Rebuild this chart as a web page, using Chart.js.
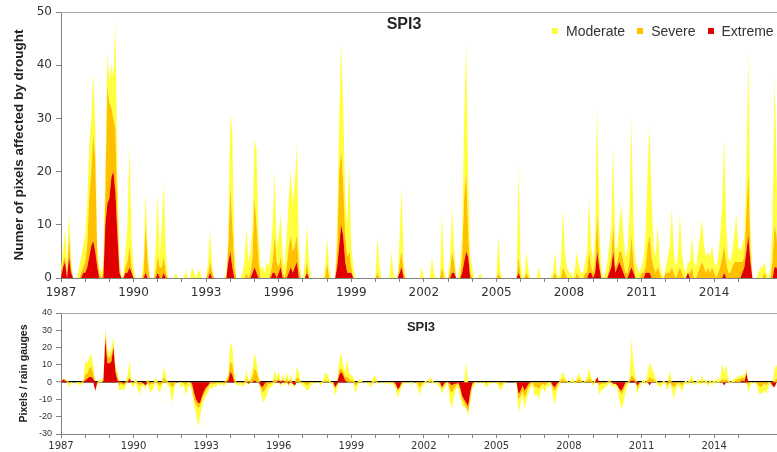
<!DOCTYPE html>
<html>
<head>
<meta charset="utf-8">
<script src="https://cdn.jsdelivr.net/npm/chart.js@4.4.1/dist/chart.umd.min.js"></script>
<style>
  html, body { margin: 0; padding: 0; background: #fff; }
  #wrap { position: relative; width: 777px; height: 452px; overflow: hidden; background: #fff; }
  canvas { position: absolute; left: 0; }
  #cTop { top: 0; }
  #cBot { top: 300px; }
  .ttl { position: absolute; font-family: "Liberation Sans", Arial, sans-serif; font-weight: bold; color: #262626; white-space: nowrap; transform: translate(-50%, -50%); line-height: 1; }
  #legend { position: absolute; left: 552px; top: 22px; height: 17px; display: flex; align-items: center; font-family: "Liberation Sans", Arial, sans-serif; font-size: 14px; color: #333; white-space: nowrap; }
  #legend .it { display: flex; align-items: center; margin-right: 12px; }
  #legend .sw { display: inline-block; width: 6px; height: 6px; margin-right: 8px; }
</style>
</head>
<body>
<div id="wrap">
  <canvas id="cTop" width="777" height="300"></canvas>
  <canvas id="cBot" width="777" height="152"></canvas>
  <div class="ttl" style="left:404px; top:24px; font-size:16px;">SPI3</div>
  <div class="ttl" style="left:421px; top:326px; font-size:13px;">SPI3</div>
  <div id="legend"></div>
</div>
<script>
// ---------------- DATA ----------------
const startYear = 1987;              // first month = Jan 1987, monthly values
const yearLabels = [1987, 1990, 1993, 1996, 1999, 2002, 2005, 2008, 2011, 2014];
const seriesNames = ['Extreme', 'Severe', 'Moderate'];
const topTitle = 'SPI3';
const yTitleTop = 'Numer of pixels affected by drought';
const yTitleBottom = 'Pixels / rain gauges';

// Top panel: number of pixels per class (layer thickness), monthly
const topExtreme = [
  0,2,3,0,4,1,0,0,0,0,0,1,        // 1987
  1,2,4,6,7,5,2,0,0,0,10,14,      // 1988
  15,19,20,16,8,1,0,0,1,1,2,1,    // 1989
  0,0,0,0,0,0,1,0,0,0,0,0,        // 1990
  1,0,0,1,0,0,0,0,0,0,0,0,        // 1991
  0,0,0,0,0,0,0,0,0,0,0,0,        // 1992
  0,0,1,0,0,0,0,0,0,0,0,3,        // 1993
  5,2,0,0,0,0,0,0,0,0,0,1,        // 1994
  2,1,0,0,0,0,0,0,0,1,1,0,        // 1995
  1,2,0,0,0,1,2,1,2,3,0,0,        // 1996
  0,0,1,0,0,0,0,0,0,0,0,0,        // 1997
  0,0,0,0,0,2,6,10,8,3,1,1,       // 1998
  1,0,0,0,0,0,0,0,0,0,0,0,        // 1999
  0,0,0,0,0,0,0,0,0,0,0,0,        // 2000
  1,2,0,0,0,0,0,0,0,0,0,0,        // 2001
  0,0,0,0,0,0,0,0,0,0,0,0,        // 2002
  0,0,1,1,0,0,0,1,3,5,4,0,        // 2003
  0,0,0,0,0,0,0,0,0,0,0,0,        // 2004
  0,0,0,0,0,0,0,0,0,0,0,1,        // 2005
  0,0,0,0,0,0,0,0,0,0,0,0,        // 2006
  0,0,0,0,0,0,0,0,0,0,0,0,        // 2007
  0,0,0,0,0,0,0,0,0,0,1,1,        // 2008
  0,1,5,2,0,0,0,0,1,2,5,1,        // 2009
  2,3,2,1,0,0,1,2,1,0,0,0,        // 2010
  0,0,1,1,1,0,0,0,0,0,0,0,        // 2011
  0,0,0,0,0,0,0,0,0,0,0,1,        // 2012
  0,0,0,0,0,0,0,0,0,0,0,0,        // 2013
  0,0,0,0,0,1,0,0,0,0,0,0,        // 2014
  0,0,1,2,5,8,3,0,0,0,0,0,        // 2015
  0,0,0,0,0,0,2,2,0,0,0,0         // 2016
];
const topSevere = [
  1,1,1,1,4,1,0,0,0,0,1,1,        // 1987
  2,4,11,14,20,17,2,1,0,1,6,22,   // 1988
  18,13,10,12,4,1,0,0,1,2,4,1,    // 1989
  0,0,0,0,0,1,9,3,0,0,0,1,        // 1990
  3,2,2,3,1,0,0,0,0,0,0,0,        // 1991
  0,0,0,0,0,0,0,0,0,0,0,0,        // 1992
  0,1,2,1,0,0,0,0,0,0,0,3,        // 1993
  12,8,2,0,0,0,0,0,1,0,1,3,       // 1994
  13,9,3,0,0,0,0,0,1,2,7,3,       // 1995
  1,2,1,0,2,5,6,4,4,5,2,0,        // 1996
  0,0,2,0,0,0,0,0,0,0,0,0,        // 1997
  3,0,0,0,0,3,14,14,10,5,3,4,     // 1998
  1,0,0,0,0,0,0,0,0,0,0,0,        // 1999
  0,1,0,0,0,0,0,0,0,0,0,0,        // 2000
  2,3,1,0,0,0,0,0,0,0,0,0,        // 2001
  0,0,0,0,0,0,0,0,0,2,0,0,        // 2002
  0,1,4,2,0,0,0,3,12,15,4,1,      // 2003
  0,0,0,0,0,0,0,0,0,0,0,0,        // 2004
  0,1,0,0,0,0,0,0,0,0,0,3,        // 2005
  0,0,0,1,0,0,0,0,0,0,0,0,        // 2006
  0,0,0,0,0,1,0,0,0,2,1,0,        // 2007
  0,0,0,0,1,0,0,0,1,1,4,1,        // 2008
  1,2,7,2,0,0,0,0,1,2,5,1,        // 2009
  1,2,3,2,1,1,2,6,2,0,0,0,        // 2010
  1,1,1,5,7,4,2,1,2,1,0,0,        // 2011
  1,1,1,2,1,0,1,2,1,0,0,0,        // 2012
  1,2,0,0,1,2,3,2,1,2,1,2,        // 2013
  1,0,1,2,4,5,3,1,1,2,3,3,        // 2014
  3,3,2,2,7,12,2,0,0,0,0,0,       // 2015
  0,1,0,0,0,3,8,6,0,0,0,0         // 2016
];
const topModerate = [
  1,2,5,2,4,2,0,0,0,2,3,4,        // 1987
  5,8,10,10,11.5,7,2,1,1,2,4,6.5, // 1988
  4,8,8,20,8,2,0,1,3,7,19,6,      // 1989
  2,0,0,0,0,3,6,3,0,0,0,5,        // 1990
  12,2,8,14,4,0,0,0,0,1,0,0,      // 1991
  0,0,1.5,0,0,2,1,0,1.5,1,0,0,    // 1992
  0,2,6,1,0,0,0,0,0,0,1,2,        // 1993
  14,17,4,0,0,0,1,3,8.6,3,4,6,    // 1994
  11,14,5,2,2,1,3,2,4,7,12,3,     // 1995
  6,8,3,2,6,9,12,9,12,17,4,0,     // 1996
  0,3,7,3,0,0,0,0,0,0,0,2,        // 1997
  4.5,2,0,0,0,5,10,20,14,7,6,17,  // 1998
  4,2,0,0,0,0,0,0,0,0,0,0,        // 1999
  0,6.7,2,0,0,0,0,0,5,1,0,0,      // 2000
  5,12,2,0,0,0,0,0,0,0,0,2,       // 2001
  0,0,0,0,4,1,0,0,0,10,2,0,       // 2002
  0,3,8,3,0,0,3,4,15,24,12,3,     // 2003
  2,0,0,0,1,0,0,0,0,0,0,0,        // 2004
  0,7,1,0,0,0,0,0,0,0,0,17,       // 2005
  3,0,1,4,1,0,0,0,0,2,0,0,        // 2006
  0,0,0,0,1,4,1,0,3,11,4,2,       // 2007
  1,1,0,2,4,2,1,1,2,4,10,4,       // 2008
  2,5,20,6,2,0,1,3,4,6,15,3,      // 2009
  3,5,9,5,3,4,9,22,7,3,2,1,       // 2010
  1,3,6,14,20.5,11,4,3,8,2,1,0,   // 2011
  1,3,5,11,4,2,3,10,4,2,1,2,      // 2012
  2,6,3,2,4,6,8,4,3,3,3,4,        // 2013
  2,2,3,6,10,20.5,7,3,2,3,5,9,    // 2014
  3,2,3,4,8,23,5,0,0,0,1,2,       // 2015
  2,2,1,0,2,7,28,12,0,0,0,0       // 2016
];

// Bottom panel: difference pixels - rain gauges per class (signed layer thickness)
const diffExtreme = [
  0,1.5,1,0,0,0,0,0,0,0,0,0,            // 1987
  1,2,3,3,2,-5,0,0,0,0,25,11,           // 1988
  11,12,20,6,1,0,0,-1,0,0,2,0,          // 1989
  0,0,0,0,0,-1,-2,0,0,0,0,0,            // 1990
  0,0,0,0,0,0,0,0,0,0,0,0,              // 1991
  0,0,0,0,0,-1,-6,-10,-12,-12,-8,-5,    // 1992
  -3,-2,0,0,0,0,0,0,0,0,0,1,            // 1993
  6,4,0,0,0,0,0,0,0,-1,0,0,             // 1994
  1,0,0,-2,-3,-1,0,0,0,0,0,0,           // 1995
  1,-1,1,0,0,-1,0,-1,-2,0,0,0,          // 1996
  0,0,0,0,0,0,0,0,0,0,0,0,              // 1997
  0,0,0,0,-3,-1,4,6,4,1,0,0,            // 1998
  0,0,0,0,0,0,0,0,0,0,0,0,              // 1999
  0,0,0,0,0,0,0,0,0,0,-1,-4,            // 2000
  -3,0,0,0,0,0,0,0,0,0,0,0,             // 2001
  0,0,0,0,0,0,0,0,0,-3,-1,0,            // 2002
  0,-1,-2,-1,-1,0,-3,-8,-10,-12,-14,-6, // 2003
  -1,0,0,0,0,0,0,0,0,0,0,0,             // 2004
  0,0,0,0,0,0,0,0,0,0,0,-7,             // 2005
  -5,-2,-5,-3,-1,0,0,0,0,0,0,0,         // 2006
  0,0,0,0,-2,-3,-1,0,0,0,0,0,           // 2007
  0,0,0,0,0,0,0,0,0,0,0,0,              // 2008
  0,0,3,0,0,0,0,0,0,0,-1,-1,            // 2009
  -2,-4,-5,-3,0,0,0,1,1,0,-2,0,         // 2010
  0,0,0,0,-2,0,0,0,0,0,0,0,             // 2011
  0,0,0,0,0,0,0,0,0,0,0,0,              // 2012
  0,0,0,0,0,0,0,0,0,0,0,0,              // 2013
  0,0,0,0,0,-2,0,0,0,0,0,0,             // 2014
  0,0,1,0,5,0,0,0,0,0,0,0,              // 2015
  0,0,0,0,0,-2,-3,0,0,0,0,0             // 2016
];
const diffSevere = [
  0,0.5,0.5,0,-1,0,0,0,0,0,-1,0,        // 1987
  3,3,5,6,3,0,-1,0,0,1,4,4,             // 1988
  3,4,2,2,2,-2,-1,-1,-1,1,1,0,          // 1989
  -1,0,-1,-2,-1,0,0,1,-2,-1,-1,0,       // 1990
  -1,-2,-1,3,1,0,-1,-3,-2,0,0,0,        // 1991
  0,-1,-2,0,0,-2,-4,-3,-3,-2,-2,-2,     // 1992
  -2,-1,-1,-1,-1,-1,0,-1,0,-1,1,2,      // 1993
  6,6,2,0,-1,0,-1,0,2,0,1,3,            // 1994
  7,6,2,-1,-3,-4,-3,-1,-1,0,2,1,        // 1995
  1,0,1,-1,2,-1,2,0,0,3,2,0,            // 1996
  0,-1,-2,-1,0,0,0,0,0,0,0,1,           // 1997
  1,0,0,0,-1,-1,3,2,2,2,3,2,            // 1998
  1,1,-2,-1,0,0,0,0,0,0,-1,0,           // 1999
  1,0,0,0,0,0,0,0,0,0,-1,-1,            // 2000
  -1,-1,0,0,0,0,0,0,0,-1,-3,-1,         // 2001
  0,0,0,1,0,0,0,0,-1,-1,-1,0,           // 2002
  0,-4,-4,-3,-1,-1,-2,-2,-2,-3,-3,-3,   // 2003
  -1,0,0,0,0,0,0,-1,0,0,0,0,            // 2004
  0,0,-2,-1,0,0,0,0,0,0,0,-3,           // 2005
  -3,-3,-4,-3,-2,-1,0,-3,-3,-4,-2,-1,   // 2006
  -2,-1,0,0,-2,-2,-2,0,1,2,1,0,         // 2007
  0,0,0,0,1,2,1,0,0,1,2,1,              // 2008
  -1,0,0,-2,-1,-1,-1,0,1,0,0,0,         // 2009
  0,-1,-2,-2,-2,0,1,3,2,1,-2,-1,        // 2010
  0,0,0,1,3,2,2,0,0,-1,0,0,             // 2011
  0,-2,2,-2,-3,-2,0,-1,-2,0,0,0,        // 2012
  0,1,0,0,0,0,1,0,0,-1,0,0,             // 2013
  0,0,0,0,2,1,2,0,0,0,0,1,              // 2014
  2,2,2,2,1,-2,0,0,0,0,-2,-3,           // 2015
  -2,-1,-2,0,0,-1,1,2,0,0,0,0           // 2016
];
const diffModerate = [
  0,0,0.5,1,-2,-1,0,0,-2,-1,-1,1,       // 1987
  8,6,6,7.5,5,-0.5,-1,2,1,2,2,5,        // 1988
  2,4,4,2,3,-3,-3,-3,-2,3,10,-2,        // 1989
  -2,2,-3,-5,-2,-1,-2,1,-4,-4,-2,3,     // 1990
  -3,-4,-2,6,3,-2,-3,-9,-4,0,0,-2,      // 1991
  -3,-1,-6,-3,-2,-3,-4,-5,-11,-6,-4,-3, // 1992
  -3,-3,-2,-3,-1,-2,-1,-1,-1,-2,1,2,    // 1993
  11,10,4,-2,-1,-1,-2,-2,6,-1,2,5,      // 1994
  9,6,2,-2,-6,-5,-5,-3,-2,-2,5,2,       // 1995
  4,-2,3,-1,4,-1,3,-1,-1,6,4,-1,        // 1996
  -2,-2,-3,-3,-2,-1,0,-1,0,-2,1,4,      // 1997
  4,2,-1,-2,-4,-2,5,9,4,3,10,3,         // 1998
  3,2,-5,-2,2,1,0,-1,0,-2,-2,3,         // 1999
  3,-1,0,-1,0,-2,0,-1,-1,-2,-2,-4,      // 2000
  -2,-2,-1,0,-1,0,-2,0,0,-3,-4,-2,      // 2001
  -2,1,-1,2,2,-1,0,-2,-2,-3,-2,-2,      // 2002
  -1,-7,-9,-4,-2,-2,-3,-4,-2,12,-2,-3,  // 2003
  -2,-2,-1,0,-1,0,-1,-2,-2,0,-1,0,      // 2004
  -1,-2,-3,-2,-1,0,0,0,0,0,-2,-8,       // 2005
  -4,-3,-6,-4,-3,-2,-2,-5,-4,-6,-3,-2,  // 2006
  -4,-2,-2,-1,-4,-8,-3,-2,2,4,2,1,      // 2007
  -1,1,2,-1,2,3,1,-1,1,2,6,2,           // 2008
  -1,2,0,-5,-4,-3,-2,-2,1,-2,-2,-1,     // 2009
  -2,-5,-9,-7,-4,-2,1,21,7,2,-3,-2,     // 2010
  -1,2,-1,4,9,6,4,2,-2,-2,-2,1,         // 2011
  -2,-3,5,-2,-7,-2,-2,-2,-4,-2,1,-2,    // 2012
  2,3,-2,-1,2,-2,3,-1,2,-2,1,-2,        // 2013
  2,-1,3,1,9,4,8,2,-1,1,2,2,            // 2014
  1,2,1,2,2,-4,-2,0,-1,-1,-4,-4,        // 2015
  -4,-4,-5,-2,-1,0,7,8,0,0,0,0          // 2016
];

// ---------------- STYLE / BUILD ----------------
const RED = '#e00000', ORANGE = '#ffc000', YELLOW = '#ffff40';
const AXIS = '#808080';
const xMin = 1987, xMax = 2016.6;

const toPts = (arr, f) => arr.map((v, i) => ({ x: startYear + i / 12, y: f ? f(v) : v }));
const pos = v => Math.max(v, 0);
const neg = v => Math.min(v, 0);
const area = (label, data, color, fill, stack) => ({
  label, data, backgroundColor: color, borderColor: color, borderWidth: 0,
  pointRadius: 0, pointHoverRadius: 0, fill, tension: 0, stack
});

const topBorder = {
  id: 'topBorder',
  afterDraw(chart) {
    const { ctx, chartArea: a } = chart;
    ctx.save();
    ctx.strokeStyle = '#a8a8a8';
    ctx.lineWidth = 1;
    ctx.beginPath();
    ctx.moveTo(a.left, Math.round(a.top) + 0.5);
    ctx.lineTo(a.right, Math.round(a.top) + 0.5);
    ctx.stroke();
    ctx.restore();
  }
};

function xScale(fontSize, height, pad) {
  return {
    type: 'linear', min: xMin, max: xMax,
    afterFit: s => { s.height = height; },
    afterBuildTicks: s => { s.ticks = s.ticks.filter(t => Number.isInteger(t.value)); },
    grid: { drawOnChartArea: false, drawTicks: true, tickLength: 4, color: AXIS },
    border: { color: AXIS, width: 1 },
    ticks: {
      stepSize: 1, autoSkip: false, maxRotation: 0, minRotation: 0, padding: pad,
      color: '#333', font: { family: 'DejaVu Sans', size: fontSize },
      callback: v => yearLabels.includes(v) ? String(v) : ''
    }
  };
}

const common = {
  responsive: false, animation: false, events: [],
  plugins: { legend: { display: false }, tooltip: { enabled: false } }
};

const topChart = new Chart(document.getElementById('cTop'), {
  type: 'line',
  data: {
    datasets: [
      area(seriesNames[0], toPts(topExtreme), RED, 'origin'),
      area(seriesNames[1], toPts(topSevere), ORANGE, '-1'),
      area(seriesNames[2], toPts(topModerate), YELLOW, '-1')
    ]
  },
  options: {
    ...common,
    layout: { padding: { top: 12, left: 0, right: 0, bottom: 0 } },
    scales: {
      x: xScale(12, 22, 4),
      y: {
        stacked: true, min: 0, max: 50,
        afterFit: s => { s.width = 61; },
        grid: { drawOnChartArea: false, tickLength: 5, color: AXIS },
        border: { color: AXIS, width: 1 },
        ticks: { stepSize: 10, padding: 4, color: '#333', font: { family: 'DejaVu Sans', size: 12 } },
        title: {
          display: true, text: yTitleTop, color: '#222',
          font: { family: 'Liberation Sans', size: 13.5, weight: 'bold' },
          padding: { top: 11, bottom: 0 }
        }
      }
    }
  },
  plugins: [topBorder]
});

const botChart = new Chart(document.getElementById('cBot'), {
  type: 'line',
  data: {
    datasets: [
      area(seriesNames[0], toPts(diffExtreme, pos), RED, 'origin', 'pos'),
      area(seriesNames[1], toPts(diffSevere, pos), ORANGE, '-1', 'pos'),
      area(seriesNames[2], toPts(diffModerate, pos), YELLOW, '-1', 'pos'),
      area(seriesNames[0], toPts(diffExtreme, neg), RED, 'origin', 'neg'),
      area(seriesNames[1], toPts(diffSevere, neg), ORANGE, '-1', 'neg'),
      area(seriesNames[2], toPts(diffModerate, neg), YELLOW, '-1', 'neg')
    ]
  },
  options: {
    ...common,
    layout: { padding: { top: 13, left: 0, right: 0, bottom: 0 } },
    scales: {
      x: xScale(10, 18, 2),
      y: {
        stacked: true, min: -30, max: 40, z: 1,
        afterFit: s => { s.width = 61; },
        grid: {
          drawOnChartArea: true, tickLength: 5,
          color: c => (c.tick && c.tick.value === 0) ? '#000' : 'rgba(0,0,0,0)',
          lineWidth: c => (c.tick && c.tick.value === 0) ? 1.5 : 1,
          tickColor: AXIS, tickWidth: 1
        },
        border: { color: AXIS, width: 1 },
        ticks: { stepSize: 10, padding: 4, color: '#333', font: { family: 'Liberation Sans', size: 9 } },
        title: {
          display: true, text: yTitleBottom, color: '#222',
          font: { family: 'Liberation Sans', size: 10.5, weight: 'bold' },
          padding: { top: 18, bottom: 0 }
        }
      }
    }
  },
  plugins: [topBorder]
});

// HTML legend built from the top chart's datasets (Moderate, Severe, Extreme)
const legendEl = document.getElementById('legend');
topChart.data.datasets.slice().reverse().forEach(ds => {
  const it = document.createElement('span');
  it.className = 'it';
  const sw = document.createElement('span');
  sw.className = 'sw';
  sw.style.background = ds.backgroundColor;
  it.appendChild(sw);
  it.appendChild(document.createTextNode(ds.label));
  legendEl.appendChild(it);
});
</script>
</body>
</html>
